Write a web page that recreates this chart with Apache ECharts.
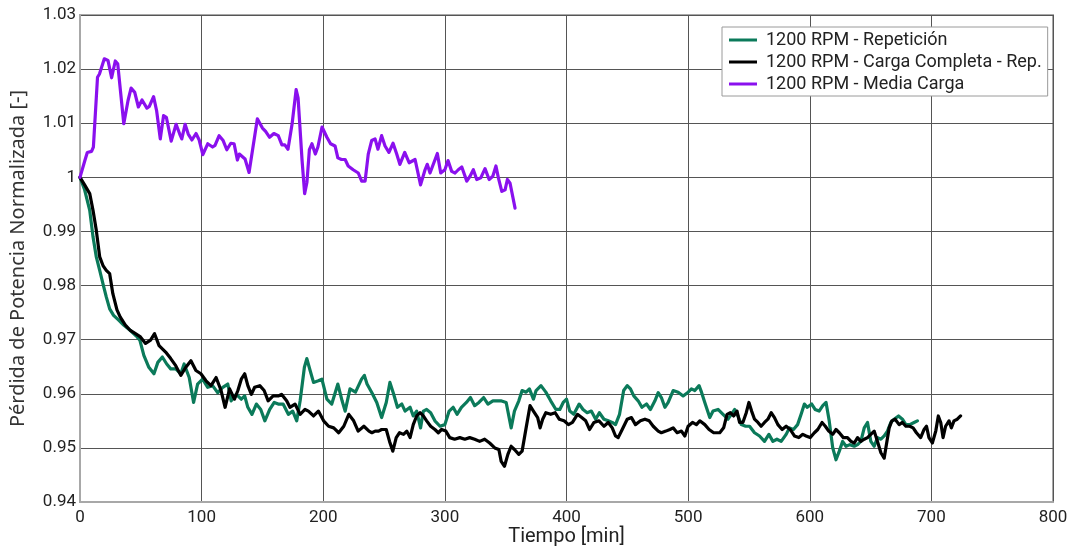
<!DOCTYPE html>
<html>
<head>
<meta charset="utf-8">
<script src="https://cdn.jsdelivr.net/npm/echarts@6/dist/echarts.min.js"></script>
<style>
  html, body { margin: 0; padding: 0; background: #fff; }
  #chart { width: 1081px; height: 548px; }
</style>
</head>
<body>
<div id="chart"></div>
<script>
// Time stamps [min] and normalised power loss for each test run
const repeticionT = [0,3.8,8,10.7,13.4,16.2,18.9,21.6,24.4,27.6,31.8,35.9,41.4,47,49.2,52.5,56.6,60.8,64,67.7,71.3,74.6,78.7,82.9,85.6,89.8,93.4,96.7,100.8,105,109,113.3,117.4,121.5,124.3,128.5,132.6,135.4,138,141.4,145,148.6,152,156,159.7,163,167,171.3,174.9,178.2,181,184.5,186.5,189.2,192,196,198.9,203,207,212,215.5,218,222,226.5,231.5,233.8,236,240,244,248,251.8,254.8,257.8,261,264.6,267.3,271.4,274,276.8,280,282.3,285,288.3,291.8,296,300,303.5,306.8,310,313.6,317.7,321,324.5,328,331.9,335.4,339.5,342.8,346,350.4,354.5,357.2,360.8,363.5,366.8,369.5,372.8,375,379,383,387,391.3,394.5,397.3,400,402.7,406,410.4,413.6,417,420.4,424,427,430.8,434.3,437.6,440.3,443.6,447,449.9,452.6,455.3,458.9,462,465.8,469,472.7,475.4,478,480.9,483.6,487.7,491.8,495.9,500,502.7,505.5,509,511,513.7,517.8,520.5,524.6,528.7,532.8,535.5,538.3,541,543.7,547.3,550.5,554.6,558.7,562.8,566.4,569.7,573,576.5,580.6,583.3,586.6,590,592.9,595.6,598,601.6,604.4,607.7,610.7,613.4,616,618.9,621.6,624.3,627,629.8,633,636.6,639.3,642,644.8,647.5,650.2,653,655.7,658.5,661.2,663.9,666.7,669.4,673,676.2,679,682.2,685.8,688.5];
const repeticionV = [1.0,0.9977,0.9939,0.989,0.9853,0.9828,0.9803,0.9779,0.9757,0.9745,0.9736,0.9727,0.9717,0.9705,0.9699,0.9671,0.9649,0.9637,0.9658,0.9668,0.9655,0.9646,0.9646,0.9637,0.9655,0.963,0.9584,0.9618,0.9627,0.9612,0.9615,0.9602,0.9612,0.9618,0.9587,0.9599,0.959,0.9596,0.9575,0.9562,0.9581,0.9571,0.955,0.9571,0.9584,0.9581,0.9581,0.9562,0.9568,0.955,0.9587,0.9649,0.9665,0.9643,0.9621,0.9624,0.9627,0.959,0.9581,0.9618,0.9587,0.9568,0.9609,0.9603,0.9627,0.9634,0.9618,0.9602,0.9584,0.9556,0.9584,0.9621,0.96,0.9575,0.9581,0.9568,0.9575,0.9559,0.9568,0.9537,0.9568,0.9571,0.9565,0.955,0.954,0.9543,0.9568,0.9575,0.9562,0.9575,0.9584,0.9593,0.9578,0.9584,0.9593,0.9581,0.9587,0.9587,0.9587,0.9584,0.9537,0.9568,0.9587,0.9606,0.9603,0.9609,0.959,0.9606,0.9615,0.9603,0.9587,0.9571,0.9571,0.9584,0.959,0.9568,0.9562,0.9581,0.9571,0.9565,0.9568,0.9553,0.9565,0.9553,0.955,0.9547,0.9543,0.9562,0.9606,0.9615,0.9609,0.9596,0.9587,0.9575,0.9581,0.9571,0.9587,0.9602,0.9593,0.9575,0.9584,0.9606,0.9603,0.9596,0.9603,0.9609,0.9606,0.9615,0.9603,0.9584,0.9556,0.9568,0.9571,0.9562,0.9553,0.9562,0.9571,0.9559,0.9543,0.954,0.954,0.9528,0.9522,0.9512,0.9525,0.9512,0.9516,0.9512,0.9525,0.9537,0.9534,0.9543,0.9562,0.9581,0.9575,0.9581,0.9571,0.9568,0.9578,0.9584,0.955,0.95,0.9478,0.9494,0.9512,0.9503,0.9506,0.9503,0.9506,0.9512,0.9537,0.9547,0.9512,0.9503,0.9519,0.9516,0.9522,0.9531,0.9547,0.9553,0.9559,0.9553,0.9543,0.9543,0.9547,0.955];

const completaT = [0,3.8,8,10.7,13.4,16.2,18.9,21.6,24.4,27,30.4,33,37.3,41.4,45.6,49.7,53.9,58,61.3,65,70.4,74.6,78.7,82.9,87,91.2,95.3,99.4,103.6,107.7,111.9,116,119.3,123,127,129.8,132.6,135.4,138,140.9,143.6,147.8,151.4,154.7,158.8,163,165.7,169.9,172.6,176.8,181,185,187.8,192,196,200.3,204.4,208.6,212.7,216.9,221,225,228.7,233.4,237.6,240,242.7,245.5,248,251.8,254.5,257.2,260,262.7,266,268.7,271.4,274,276.8,279.6,282.3,285,288.3,291.8,294.6,297.3,300.8,304,308,312.3,316.4,320.4,324.5,328.6,332.7,336.8,341,344.4,346.3,349,351.8,354.5,357.2,360.8,363.5,366.8,370,372.8,376.3,378.3,380.4,383,387,390.7,394,398,401.6,404.9,409,412.5,415.8,419,422.6,426.7,430.8,434.3,437.6,440.3,442.5,445.8,449.9,453.4,456.7,460.8,464.5,468,471.3,475.4,478,481.7,485,487.7,491,494.5,497.3,500,503.6,506.8,509.6,513.7,517.2,521,526,529.2,532,534.7,537.4,540.2,542.3,545,547.8,550,552.2,554.6,557.4,560,562.8,565.6,568.3,571,573.8,577.3,580.6,583.9,587.4,591,594.3,597,600.3,603.8,606.6,610.1,612.8,615.6,618.9,621.6,624.3,627.6,631,633.9,636.6,639.3,642,644.8,647.5,650.2,653,655.7,658.5,661.2,663,665.3,667.5,670.2,673.5,676.2,679,682.2,685,687.7,691.2,694,696,698,700.8,703.6,705.7,707.7,709.6,711.7,714.5,716.4,718.6,721.3,724];
const completaV = [1.0,0.9986,0.997,0.9939,0.9902,0.9853,0.9837,0.9828,0.9822,0.9785,0.9755,0.9742,0.9727,0.9717,0.9711,0.9705,0.9693,0.9699,0.9711,0.9689,0.9677,0.9665,0.9652,0.9634,0.9649,0.9661,0.9643,0.9637,0.9624,0.9615,0.963,0.9606,0.9575,0.9609,0.959,0.9606,0.9627,0.9637,0.9615,0.9599,0.9612,0.9615,0.9606,0.9587,0.9596,0.9596,0.9599,0.9587,0.9575,0.9581,0.9562,0.9571,0.9568,0.9559,0.9568,0.955,0.954,0.9537,0.9528,0.954,0.9562,0.955,0.9531,0.954,0.9531,0.9528,0.9531,0.9531,0.9534,0.9534,0.9512,0.9494,0.9519,0.9528,0.9525,0.9531,0.9519,0.9543,0.9559,0.9565,0.9559,0.955,0.954,0.9534,0.9528,0.9534,0.9531,0.9519,0.9516,0.9519,0.9516,0.9519,0.9516,0.9512,0.9516,0.9509,0.95,0.9497,0.9475,0.9466,0.9488,0.9503,0.9497,0.9488,0.9494,0.9537,0.9578,0.9568,0.9556,0.9537,0.9553,0.9565,0.9562,0.9565,0.9553,0.955,0.9543,0.9547,0.9562,0.9556,0.955,0.9534,0.9547,0.955,0.954,0.9547,0.9537,0.9522,0.9519,0.9534,0.9553,0.9556,0.9543,0.955,0.9553,0.955,0.954,0.9531,0.9528,0.9531,0.9534,0.9537,0.9528,0.9531,0.9522,0.954,0.9547,0.9543,0.955,0.9543,0.9534,0.9528,0.9528,0.9537,0.9562,0.9565,0.9559,0.9568,0.9547,0.9547,0.9565,0.9584,0.9568,0.9553,0.9547,0.954,0.9547,0.9553,0.9565,0.9556,0.9543,0.9534,0.954,0.9534,0.9522,0.9519,0.9525,0.9522,0.9519,0.9528,0.9534,0.9547,0.954,0.9531,0.9525,0.9534,0.9528,0.9519,0.9519,0.9512,0.9509,0.9519,0.9512,0.9516,0.9519,0.9525,0.9531,0.9512,0.9491,0.9481,0.9506,0.9537,0.955,0.9553,0.9543,0.9547,0.954,0.954,0.9537,0.9528,0.9519,0.9534,0.954,0.9519,0.9509,0.9531,0.9559,0.9547,0.9519,0.954,0.955,0.9537,0.955,0.9553,0.9559];

const mediaT = [0,4,6,9.5,11,14.4,16,20,23,26,29,31,36,39.5,42,45,48,51,55,57,60.5,63,66,68.7,71,75,79,82,83.7,86.4,89,92,95.4,98,101,105,109,111,114.4,117.7,120.7,124,126.7,129.4,131,135.7,139,145.8,150,152.6,155.9,159.4,163,166,168.4,171,174.4,177.7,179.3,182.6,184.7,186.6,188.6,190.7,193.5,195.6,199,203,206,209.7,212,215,218,220.5,224.6,228.8,231.6,234.4,237,239.8,242.6,245,248,250.8,254,257.4,260.4,263,267,270.6,275.5,277,280,283.7,285.5,287.8,293.8,296.6,300,302.6,305.6,308.4,311,313.9,318,320.7,323.4,326.2,329.5,333,336.4,339.4,342,344,346.8,349.5,351.4,353.6,357.7];
const mediaV = [1.0,1.0031,1.0046,1.0048,1.0056,1.0185,1.0191,1.0219,1.0216,1.0184,1.0215,1.021,1.0099,1.0142,1.0165,1.0157,1.013,1.0143,1.0128,1.0131,1.0149,1.0123,1.0071,1.0114,1.0111,1.0067,1.0098,1.008,1.0071,1.0098,1.008,1.0069,1.0081,1.0069,1.0042,1.0062,1.0056,1.0059,1.0077,1.0068,1.0051,1.0063,1.0062,1.0032,1.0043,1.0034,1.0009,1.0108,1.0091,1.0085,1.0074,1.0081,1.0077,1.006,1.006,1.0052,1.0099,1.0162,1.0147,1.0031,0.997,0.9991,1.0051,1.0062,1.0043,1.0056,1.0093,1.0074,1.0062,1.0058,1.0036,1.0033,1.0033,1.0021,1.0014,1.0008,0.9993,0.9993,1.0043,1.0068,1.0071,1.0052,1.0077,1.0058,1.0046,1.0063,1.0043,1.0024,1.0046,1.0027,1.0033,1.003,0.9986,1.0014,1.0024,1.0008,1.0044,1.0008,1.0014,1.0031,1.0011,1.0008,1.0014,1.0019,0.9993,1.0002,1.0014,0.9996,0.9999,1.0016,0.9996,1.0002,1.0021,0.9999,0.9974,0.9977,0.9996,0.9989,0.9943];

const seriesNames = ['1200 RPM - Repetición', '1200 RPM - Carga Completa - Rep.', '1200 RPM - Media Carga'];
const seriesColors = ['#0b7a5a', '#000000', '#8a10ee'];

const zip = (t, v) => t.map((x, i) => [x, v[i]]);

const baseFont = 'Roboto, sans-serif';

const chart = echarts.init(document.getElementById('chart'), null, { renderer: 'canvas' });

const lineSeries = (name, data, color, z) => ({
  name: name,
  type: 'line',
  data: data,
  showSymbol: false,
  symbol: 'none',
  z: z,
  lineStyle: { color: color, width: 3.2, join: 'round', cap: 'round' },
  itemStyle: { color: color },
  emphasis: { disabled: true },
  animation: false
});

chart.setOption({
  animation: false,
  backgroundColor: '#ffffff',
  grid: {
    left: 80, right: 28, top: 15, bottom: 46,
    outerBoundsMode: 'none',
    containLabel: false,
    show: true, borderColor: '#a8a8a8', borderWidth: 2, backgroundColor: 'transparent'
  },
  legend: {
    orient: 'vertical',
    left: 722, top: 27,
    padding: [4, 6, 3, 7],
    itemGap: 4,
    itemWidth: 28,
    itemHeight: 3,
    icon: 'rect',
    backgroundColor: '#ffffff',
    borderColor: '#9a9a9a',
    borderWidth: 1,
    borderRadius: 0,
    textStyle: { fontFamily: baseFont, fontSize: 18, lineHeight: 18, color: '#222', padding: [0, 0, 0, 4] },
    data: seriesNames
  },
  xAxis: {
    type: 'value',
    min: 0, max: 800, interval: 100,
    name: 'Tiempo [min]',
    nameLocation: 'middle',
    nameGap: 25,
    nameMoveOverlap: false,
    nameTextStyle: { fontFamily: baseFont, fontSize: 20, color: '#222' },
    axisLine: { show: true, lineStyle: { color: '#a8a8a8', width: 2 } },
    axisTick: { show: false },
    axisLabel: { fontFamily: baseFont, fontSize: 17, color: '#222', margin: 7 },
    splitLine: { show: true, lineStyle: { color: '#555', width: 1 } }
  },
  yAxis: {
    type: 'value',
    min: 0.94, max: 1.03, interval: 0.01,
    name: 'Pérdida de Potencia Normalizada [-]',
    nameLocation: 'middle',
    nameGap: 52,
    nameMoveOverlap: false,
    nameTextStyle: { fontFamily: "'Noto Sans', sans-serif", fontSize: 20, color: '#333' },
    axisLine: { show: true, lineStyle: { color: '#a8a8a8', width: 2 } },
    axisTick: { show: false },
    axisLabel: {
      fontFamily: baseFont, fontSize: 17, color: '#222', margin: 4,
      formatter: v => String(+v.toFixed(2))
    },
    splitLine: { show: true, lineStyle: { color: '#555', width: 1 } }
  },
  series: [
    lineSeries(seriesNames[0], zip(repeticionT, repeticionV), seriesColors[0], 2),
    lineSeries(seriesNames[1], zip(completaT, completaV), seriesColors[1], 3),
    lineSeries(seriesNames[2], zip(mediaT, mediaV), seriesColors[2], 4)
  ]
});
</script>
</body>
</html>
